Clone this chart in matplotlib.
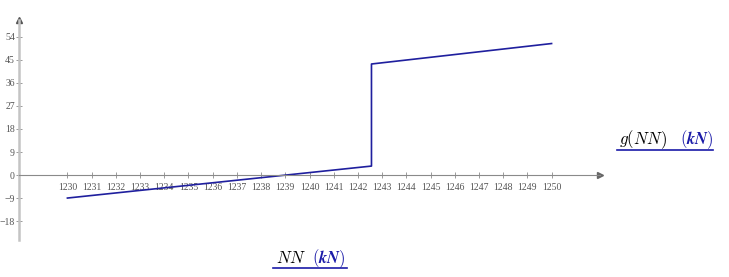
import matplotlib.pyplot as plt

# values
nn = [1230, 1242.56, 1242.56, 1250]
g = [-9.0, 3.5, 43.4, 51.4]
x_ticks = list(range(1230, 1251))
y_ticks = [-18, -9, 0, 9, 18, 27, 36, 45, 54]

W, H = 729, 277
line_blue = '#1f1f9e'
label_blue = '#1a1aa8'

plt.rcParams['mathtext.fontset'] = 'cm'

fig = plt.figure(figsize=(W / 100, H / 100), dpi=100)
# axes box in pixels: y axis at x=19, x axis ends at 600; top 20, bottom 240
ax = fig.add_axes([19 / W, 1 - 240 / H, (600 - 19) / W, (240 - 20) / H])

ax.plot(nn, g, color=line_blue, lw=1.2)

ax.set_xlim(1228, 1252)
ax.set_ylim(-25.4, 60.6)

ax.spines['top'].set_visible(False)
ax.spines['right'].set_visible(False)
ax.spines['bottom'].set_position(('data', 0))
ax.spines['bottom'].set_color('#8a8a8a')
ax.spines['bottom'].set_linewidth(0.8)
ax.spines['left'].set_color('#c4c4c4')
ax.spines['left'].set_linewidth(1.8)

ax.set_xticks(x_ticks)
ax.set_xticklabels([str(t) for t in x_ticks])
ax.set_yticks(y_ticks)
ax.set_yticklabels([str(t).replace('-', '\u2212') for t in y_ticks])
ax.tick_params(axis='x', direction='inout', length=5, width=0.6, color='#8a8a8a',
               labelsize=7, labelcolor='#555555', pad=3)
ax.tick_params(axis='y', direction='inout', length=4, width=0.6, color='#8a8a8a',
               labelsize=7, labelcolor='#555555', pad=1)
for lab in ax.get_xticklabels() + ax.get_yticklabels():
    lab.set_family('Liberation Serif')

# axis arrows
ax.plot(0, 1, marker='^', color='#555555', ms=4, transform=ax.transAxes, clip_on=False)
ax.plot(1, 0, marker='>', color='#666666', ms=4, transform=ax.get_yaxis_transform(),
        clip_on=False)


def px(x, y):
    return x / W, 1 - y / H


# y label (right side) with underline
fig.text(*px(619, 144), r'$g(NN)$', fontsize=12, color='black', va='baseline')
fig.text(*px(680, 144), r'$(\mathbfit{kN})$', fontsize=12, color=label_blue, va='baseline')
fig.add_artist(plt.Line2D([617 / W, 713 / W], [1 - 150 / H] * 2, color=label_blue, lw=1.2))

# x label (bottom) with underline
fig.text(*px(276, 263), r'$NN$', fontsize=12, color='black', va='baseline')
fig.text(*px(312, 263), r'$(\mathbfit{kN})$', fontsize=12, color=label_blue, va='baseline')
fig.add_artist(plt.Line2D([273 / W, 347 / W], [1 - 268 / H] * 2, color=label_blue, lw=1.2))

fig.savefig('out.png', dpi=100)
